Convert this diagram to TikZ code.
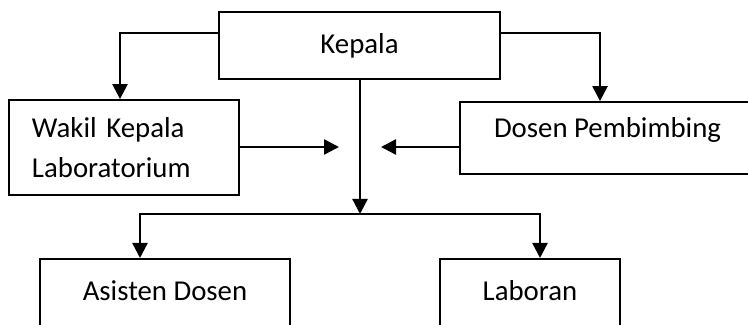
\documentclass[tikz,border=0pt]{standalone}
\usepackage{fontspec}
\setmainfont{Carlito}
\usetikzlibrary{arrows.meta}

\begin{document}
\begin{tikzpicture}[x=0.5pt, y=-0.5pt, >={Triangle[length=7.5pt,width=7.5pt]}, font=\fontsize{14.4}{20}\selectfont,
    unit/.style={draw, line width=0.9pt, inner sep=0pt, minimum width=#1},
    link/.style={->, line width=1.2pt}]
    \useasboundingbox (0,0) rectangle (748,325);
    \clip (0,0) rectangle (748,325);

    % boxes
    \node[unit=140.5pt, minimum height=33.5pt] (kepala) at (359.5,45.5) {Kepala};
    \node[unit=115pt, minimum height=47.5pt, align=left, text width=92pt, inner xsep=11.5pt] (wakil) at (124,147.5) {Wakil Kepala\\Laboratorium};
    \node[unit=147.5pt, minimum height=36pt, text height=8pt, text depth=8pt] (dosen) at (607.5,138) {Dosen Pembimbing};
    \node[unit=125pt, anchor=north, text height=21pt, text depth=45pt] (asisten) at (165,258) {Asisten Dosen};
    \node[unit=90pt, anchor=north, text height=21pt, text depth=45pt] (laboran) at (530,258) {Laboran};

    \coordinate (hub) at (360,214);
    \coordinate (inL) at (339,147);
    \coordinate (inR) at (381,147);

    % connectors
    \draw[link] ([yshift=6.25pt]kepala.west) -| ([xshift=-2pt]wakil.north);
    \draw[link] ([yshift=6.25pt]kepala.east) -| ([xshift=-3.75pt]dosen.north);
    \draw[link] (kepala.south -| hub) -- (hub);
    \draw[link] (wakil.east |- inL) -- (inL);
    \draw[link] (dosen.west |- inR) -- (inR);
    \draw[link] (hub) -| ([xshift=-12.5pt]asisten.north);
    \draw[link] (hub) -| ([xshift=5pt]laboran.north);
\end{tikzpicture}
\end{document}
